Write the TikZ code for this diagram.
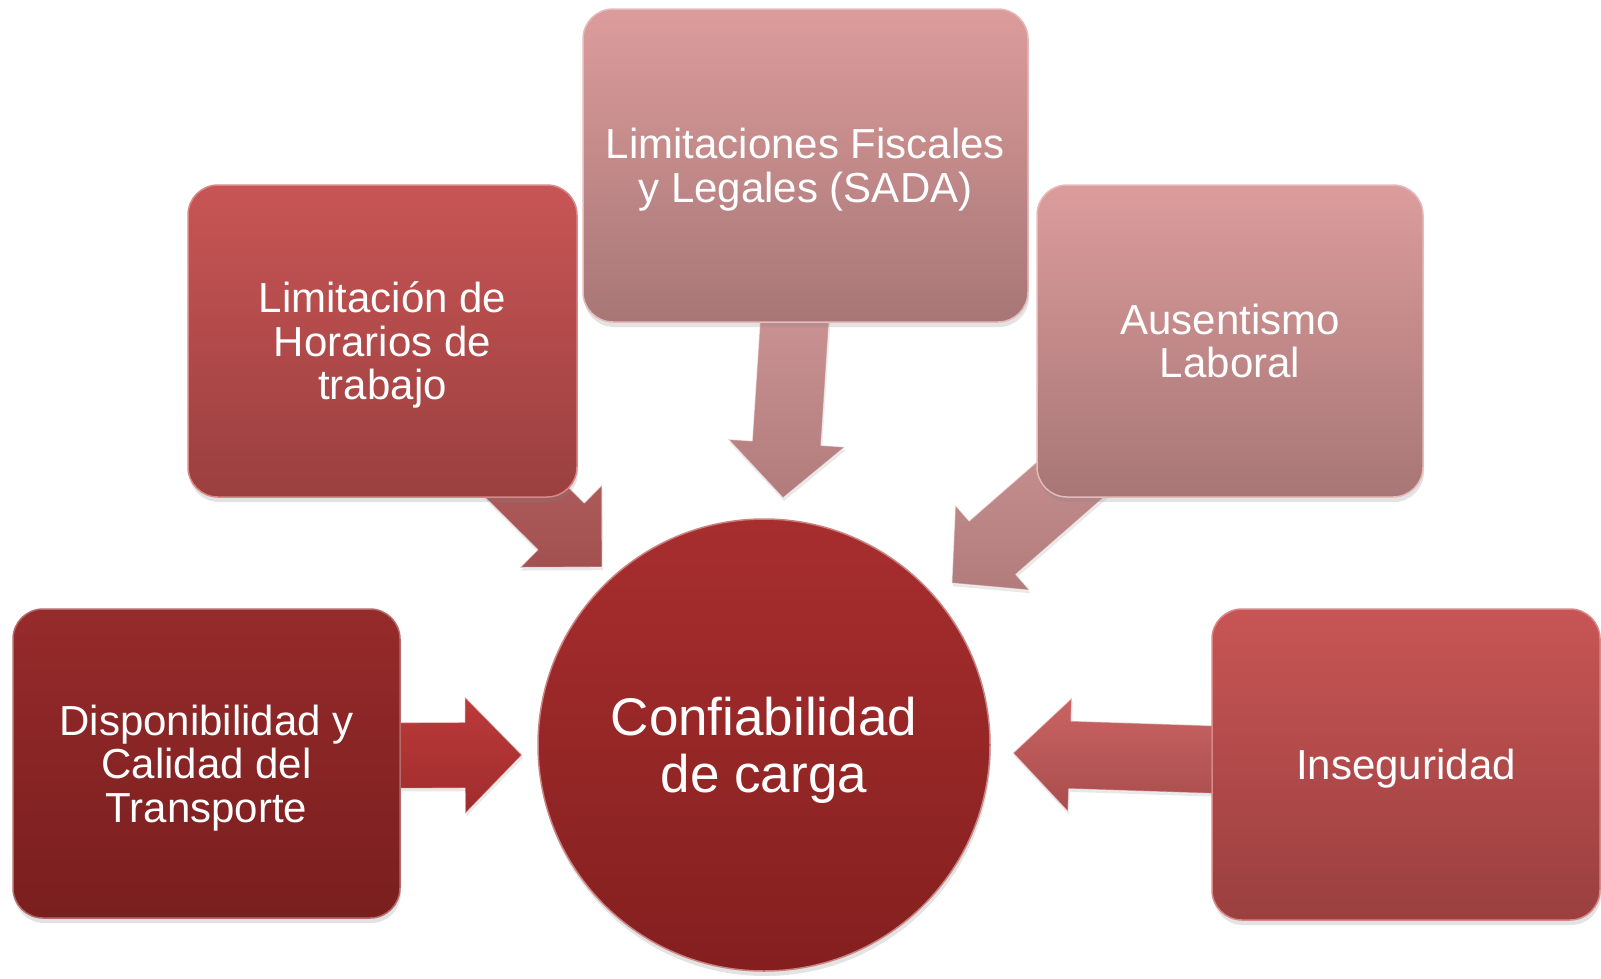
\documentclass[tikz,border=0pt]{standalone}
\usepackage{fontspec}
\setmainfont{Liberation Sans}
\usetikzlibrary{calc,shadows}
\pgfdeclarelayer{background}
\pgfsetlayers{background,main}
\definecolor{darkT}{HTML}{962B2B}
\definecolor{darkB}{HTML}{7A1E1E}
\definecolor{midT}{HTML}{C85555}
\definecolor{midB}{HTML}{9B3F3F}
\definecolor{paleT}{HTML}{DC9C9C}
\definecolor{paleB}{HTML}{A87676}
\definecolor{circT}{HTML}{A82E2E}
\definecolor{circB}{HTML}{841F1F}
\definecolor{arA}{HTML}{BC3A3A}
\definecolor{arAb}{HTML}{A02C2C}
\definecolor{arB}{HTML}{B46262}
\definecolor{arBb}{HTML}{A35050}
\definecolor{arC}{HTML}{CC9494}
\definecolor{arCb}{HTML}{B27C7C}
\definecolor{arE}{HTML}{CA6464}
\definecolor{arEb}{HTML}{A94C4C}
% block arrow: #1 start, #2 tip, #3 half shaft, #4 half head, #5 head length, #6 top colour, #7 bottom colour
\newcommand{\blockarr}[7]{%
  \coordinate (#1H) at ($(#2)!#5!(#1)$);
  \path[top color=#6, bottom color=#7, draw=white, draw opacity=0.55,
        line width=1.2pt, line join=round,
        drop shadow={shadow xshift=1pt, shadow yshift=-3pt, opacity=0.18}]
    ($(#1)!#3!90:(#2)$) -- ($(#1H)!#3!90:(#2)$) -- ($(#1H)!#4!90:(#2)$) -- (#2)
    -- ($(#1H)!#4!-90:(#2)$) -- ($(#1H)!#3!-90:(#2)$) -- ($(#1)!#3!-90:(#2)$) -- cycle;
}
\tikzset{
  box/.style={rectangle, rounded corners=30pt, inner sep=0pt, outer sep=0pt,
    align=center, text=white, font=\fontsize{42}{43.5}\selectfont,
    text depth=0pt, line width=1.5pt,
    drop shadow={shadow xshift=1pt, shadow yshift=-5pt, opacity=0.22}},
  darkbox/.style={box, top color=darkT, bottom color=darkB, draw=darkT!70!white},
  midbox/.style={box, top color=midT, bottom color=midB, draw=midT!70!white},
  palebox/.style={box, top color=paleT, bottom color=paleB, draw=paleT!70!white},
  hub/.style={circle, inner sep=0pt, outer sep=0pt, minimum size=452pt,
    top color=circT, bottom color=circB, draw=circT!60!white, line width=1.5pt,
    align=center, text=white, font=\fontsize{53}{57}\selectfont, text depth=0pt,
    drop shadow={shadow xshift=1pt, shadow yshift=-5pt, opacity=0.22}}
}
\begin{document}
\begin{tikzpicture}[x=1pt,y=-1pt]
\useasboundingbox (0,0) rectangle (1601,978);
\node[darkbox, minimum width=387pt, minimum height=309pt] (b1) at (206.5,763.5)
  {Disponibilidad y\\Calidad del\\Transporte};
\node[midbox, minimum width=389pt, minimum height=312pt] (b2) at (382.5,341)
  {Limitación de\\Horarios de\\trabajo};
\node[palebox, minimum width=445pt, minimum height=313pt] (b3) at (805.5,165.5)
  {Limitaciones Fiscales\\y Legales (SADA)};
\node[palebox, minimum width=386pt, minimum height=312pt] (b4) at (1230,341)
  {Ausentismo\\Laboral};
\node[midbox, minimum width=388pt, minimum height=311pt] (b5) at (1406,764.5)
  {Inseguridad};
\node[hub] (c) at (764,745) {Confiabilidad\\de carga};
% arrow end points, tied to the nodes
\coordinate (a1s) at ($(b1.east)+(-10,-8)$);
\coordinate (a1t) at ($(c.west)+(-16,10)$);
\coordinate (a2s) at ($(b2.south east)+(-107,-61)$);
\coordinate (a2t) at ($(c.north west)+(-2,-18)$);
\coordinate (a3s) at ($(b3.south)+(-9.5,-22)$);
\coordinate (a3t) at ($(c.north)+(19,-21)$);
\coordinate (a4s) at ($(b4.south west)+(81,-59)$);
\coordinate (a4t) at ($(c.north east)+(28,-2)$);
\coordinate (a5s) at ($(b5.west)+(13,-4.5)$);
\coordinate (a5t) at ($(c.east)+(23,8)$);
\begin{pgfonlayer}{background}
\blockarr{a1s}{a1t}{33pt}{58.5pt}{57pt}{arA}{arAb}
\blockarr{a2s}{a2t}{33pt}{58pt}{58pt}{arB}{arBb}
\blockarr{a3s}{a3t}{34.5pt}{58.5pt}{55pt}{arC}{arCb}
\blockarr{a4s}{a4t}{35.5pt}{56.5pt}{54pt}{arC}{arCb}
\blockarr{a5s}{a5t}{34pt}{57pt}{57pt}{arE}{arEb}
\end{pgfonlayer}
\end{tikzpicture}
\end{document}
